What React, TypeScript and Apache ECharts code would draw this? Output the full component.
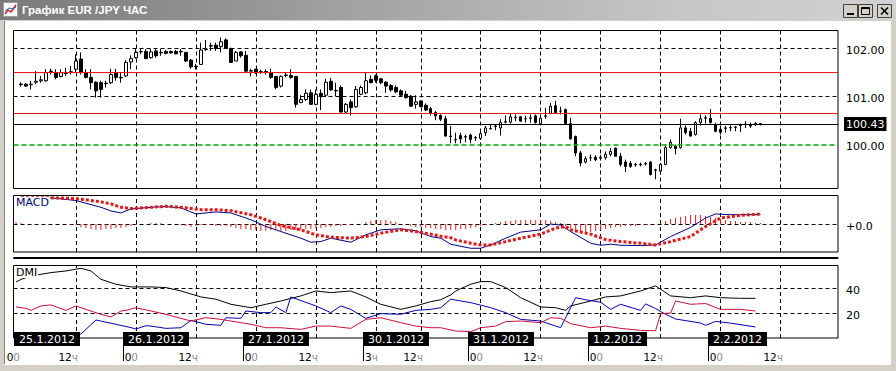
import React, { useEffect, useRef } from 'react';
import * as echarts from 'echarts';

const TITLE = 'График EUR /JPY ЧАС';

const DAYS = [
  { date: '25.1.2012', first: 0 },
  { date: '26.1.2012', first: 0 },
  { date: '27.1.2012', first: 0 },
  { date: '30.1.2012', first: 3 },
  { date: '31.1.2012', first: 0 },
  { date: '1.2.2012', first: 0 },
  { date: '2.2.2012', first: 0 },
];
const LAST_HOUR = 23;

// hourly candles [open, close, low, high] starting at 25.1.2012 01:00
const FIRST_CANDLE = 1;
const CANDLES: number[][] = [
  [101.26,101.25,101.21,101.30],[101.26,101.22,101.20,101.28],[101.25,101.26,101.15,101.33],[101.30,101.32,101.26,101.53],
  [101.33,101.35,101.29,101.43],[101.33,101.50,101.31,101.57],[101.52,101.53,101.46,101.58],[101.50,101.40,101.36,101.57],
  [101.42,101.50,101.40,101.57],[101.48,101.50,101.43,101.60],[101.50,101.52,101.46,101.64],[101.57,101.74,101.50,101.88],
  [101.78,101.50,101.46,101.92],[101.50,101.40,101.38,101.57],[101.40,101.29,101.15,101.57],[101.30,101.12,100.98,101.32],
  [101.29,101.15,100.98,101.33],[101.27,101.28,101.19,101.33],[101.29,101.46,101.26,101.58],[101.50,101.40,101.33,101.58],
  [101.39,101.40,101.29,101.50],[101.43,101.71,101.41,101.76],[101.72,101.79,101.57,101.86],[101.81,101.92,101.79,102.00],
  [101.93,101.94,101.88,101.99],[101.94,101.79,101.78,101.99],[101.81,101.93,101.79,101.99],[101.95,101.85,101.81,101.99],
  [101.91,101.92,101.85,101.99],[101.94,101.90,101.88,101.97],[101.94,101.91,101.89,101.96],[101.94,101.89,101.88,101.97],
  [101.93,101.94,101.85,101.99],[101.92,101.74,101.72,101.93],[101.76,101.62,101.58,101.78],[101.62,101.63,101.56,101.68],
  [101.67,101.97,101.66,102.12],[101.98,101.99,101.95,102.18],[102.05,102.06,101.95,102.12],[102.07,102.00,101.95,102.12],
  [102.04,102.14,101.92,102.23],[102.18,102.00,101.99,102.21],[102.00,101.71,101.71,102.02],[101.74,101.92,101.74,101.95],
  [101.93,101.85,101.81,101.95],[101.86,101.53,101.51,101.95],[101.53,101.54,101.42,101.58],[101.57,101.50,101.47,101.58],
  [101.51,101.52,101.47,101.56],[101.52,101.51,101.46,101.57],[101.50,101.40,101.37,101.58],[101.42,101.19,101.15,101.43],
  [101.22,101.42,101.19,101.44],[101.44,101.45,101.40,101.50],[101.44,101.40,101.37,101.57],[101.42,100.84,100.77,101.43],
  [100.88,100.94,100.86,101.03],[100.94,101.07,100.91,101.15],[101.08,100.84,100.84,101.15],[100.84,101.05,100.82,101.15],
  [101.07,101.00,100.72,101.15],[101.03,101.30,100.99,101.37],[101.32,101.14,101.12,101.39],[101.12,101.13,101.01,101.29],
  [101.19,100.68,100.67,101.23],[100.68,100.84,100.65,100.87],[100.89,100.77,100.61,100.94],[100.79,101.15,100.77,101.22],
  [101.05,101.19,101.03,101.23],[101.08,101.33,101.05,101.50],[101.36,101.29,101.28,101.44],[101.43,101.34,101.29,101.46],
  [101.37,101.29,101.26,101.39],[101.30,101.22,101.08,101.32],[101.23,101.14,101.10,101.26],[101.19,101.10,101.07,101.23],
  [101.12,101.03,101.00,101.15],[101.05,100.98,100.96,101.12],[101.01,100.80,100.79,101.03],[100.84,100.89,100.75,101.03],
  [100.91,100.79,100.79,100.92],[100.82,100.72,100.70,100.86],[100.75,100.65,100.61,100.79],[100.67,100.60,100.51,100.70],
  [100.61,100.53,100.49,100.63],[100.54,100.18,100.17,100.60],[100.18,100.17,100.03,100.39],[100.10,100.11,100.03,100.25],
  [100.19,100.12,100.03,100.25],[100.16,100.17,100.05,100.21],[100.20,100.11,100.03,100.23],[100.14,100.15,100.08,100.18],
  [100.13,100.23,100.10,100.28],[100.25,100.35,100.18,100.39],[100.33,100.34,100.32,100.42],[100.38,100.39,100.30,100.42],
  [100.35,100.46,100.19,100.53],[100.47,100.48,100.44,100.61],[100.47,100.58,100.44,100.64],[100.56,100.57,100.49,100.63],
  [100.58,100.49,100.48,100.60],[100.54,100.54,100.46,100.60],[100.55,100.56,100.46,100.63],[100.60,100.46,100.44,100.63],
  [100.44,100.55,100.42,100.63],[100.59,100.60,100.54,100.77],[100.65,100.80,100.63,100.87],[100.81,100.67,100.65,100.91],
  [100.70,100.70,100.63,100.79],[100.73,100.44,100.42,100.75],[100.44,100.12,100.11,100.56],[100.17,99.83,99.76,100.19],
  [99.83,99.62,99.55,99.87],[99.64,99.71,99.61,99.76],[99.73,99.73,99.66,99.80],[99.74,99.69,99.66,99.78],
  [99.72,99.74,99.68,99.79],[99.73,99.80,99.69,99.86],[99.80,99.86,99.76,99.93],[99.93,99.76,99.76,99.94],
  [99.76,99.59,99.55,99.83],[99.64,99.55,99.43,99.69],[99.61,99.55,99.52,99.66],[99.58,99.59,99.54,99.62],
  [99.59,99.58,99.55,99.63],[99.60,99.61,99.57,99.64],[99.64,99.38,99.36,99.66],[99.47,99.48,99.28,99.50],
  [99.45,99.59,99.38,99.62],[99.59,99.94,99.58,100.01],[99.94,100.05,99.92,100.11],[99.97,99.92,99.80,100.00],
  [99.94,100.35,99.92,100.54],[100.35,100.25,100.21,100.40],[100.28,100.18,100.17,100.35],[100.21,100.46,100.19,100.49],
  [100.46,100.54,100.40,100.63],[100.55,100.56,100.44,100.61],[100.55,100.46,100.44,100.74],[100.42,100.28,100.26,100.46],
  [100.32,100.26,100.21,100.40],[100.34,100.35,100.25,100.39],[100.35,100.36,100.28,100.40],[100.36,100.37,100.28,100.39],
  [100.40,100.41,100.26,100.44],[100.42,100.43,100.35,100.49],[100.42,100.39,100.35,100.46],[100.43,100.44,100.39,100.47],
  [100.44,100.43,100.40,100.44],
];

const PRICE_RANGE = [99.09, 102.375];
const PRICE_TICKS = [100, 101, 102];
const RED_LEVELS = [101.5, 100.65];
const GREEN_LEVEL = 100.0;
const LAST_PRICE = 100.43;

// MACD pane (bar index, value)
const MACD_RANGE = [-0.277, 0.283];
const MACD_TICKS = [0];
const MACD_LINE: number[][] = [
  [1,0.26],[7,0.26],[12,0.233],[17,0.166],[19,0.13],[21,0.11],[23,0.15],[27,0.166],[30,0.173],[33,0.16],[36,0.10],
  [40,0.12],[43,0.11],[47,0.043],[50,-0.024],[53,-0.074],[57,-0.14],[59,-0.18],[61,-0.174],[63,-0.14],[67,-0.18],
  [70,-0.107],[73,-0.057],[77,-0.047],[80,-0.067],[83,-0.124],[85,-0.14],[87,-0.20],[88,-0.21],[91,-0.24],[93,-0.24],
  [95,-0.207],[98,-0.14],[101,-0.08],[105,-0.057],[107,0.0],[109,-0.01],[111,-0.074],[115,-0.19],[117,-0.21],
  [119,-0.20],[121,-0.21],[125,-0.213],[128,-0.207],[131,-0.124],[135,-0.034],[138,0.06],[140,0.10],[143,0.093],[149,0.093],
];
const SIGNAL_LINE: number[][] = [
  [1,0.26],[7,0.26],[12,0.253],[17,0.22],[19,0.20],[21,0.166],[23,0.153],[27,0.166],[30,0.176],[33,0.166],[37,0.143],
  [40,0.143],[43,0.133],[47,0.093],[50,0.043],[53,-0.014],[57,-0.057],[60,-0.107],[63,-0.13],[67,-0.14],[70,-0.124],
  [73,-0.09],[77,-0.057],[80,-0.074],[83,-0.10],[85,-0.12],[87,-0.135],[88,-0.157],[91,-0.19],[93,-0.207],[95,-0.207],
  [98,-0.174],[101,-0.14],[105,-0.10],[108,-0.04],[110,-0.024],[111,-0.057],[115,-0.10],[118,-0.154],[121,-0.174],
  [125,-0.19],[128,-0.207],[131,-0.174],[135,-0.124],[138,-0.024],[141,0.06],[145,0.086],[149,0.10],
];
const MACD_HIST: number[] = [
  0.02,0.01,0,0,0,0,0,0,0,0,0,-0.01,-0.01,
  -0.03,-0.04,-0.05,-0.06,-0.06,-0.05,-0.05,-0.04,-0.04,-0.03,-0.02,
  -0.01,0,0,0.01,0.01,0.01,0,0,0,-0.01,
  -0.02,-0.03,-0.02,-0.01,-0.01,-0.01,-0.02,-0.02,-0.02,-0.03,-0.04,-0.05,
  -0.05,-0.06,-0.06,-0.07,-0.07,-0.06,-0.06,-0.07,-0.07,-0.06,-0.06,-0.06,-0.05,-0.05,-0.04,-0.04,-0.03,
  -0.03,-0.02,-0.02,-0.01,-0.01,0,0,
  0.02,0.03,0.04,0.04,0.04,0.03,0.02,
  0,-0.01,-0.02,-0.03,-0.03,-0.04,-0.04,-0.05,-0.05,-0.06,
  -0.06,-0.06,-0.05,-0.05,-0.04,-0.03,
  -0.02,-0.01,0,0.01,
  0.02,0.03,0.03,0.04,0.04,0.04,0.04,0.04,0.04,0.04,0.03,0.02,0.01,
  -0.02,-0.04,-0.06,-0.07,-0.08,-0.08,-0.07,-0.06,-0.05,
  -0.04,-0.03,-0.03,-0.02,-0.02,-0.02,-0.01,-0.01,-0.01,0,0.01,
  0.03,0.05,0.06,0.07,0.08,0.09,0.09,0.09,0.08,0.07,0.06,
  0.05,0.04,0.03,0.03,0.02,0.02,0.02,0.01,0.01,
];

// DMI pane (bar index, value)
const DMI_RANGE = [0.8, 58];
const DMI_TICKS = [20, 40];
const ADX: number[][] = [
  [0,45],[1,47],[3,49.8],[7,52.4],[10,53.7],[12,55.1],[13,55.8],[15,53.7],[17,47.1],[20,43.2],[23,41.1],[27,41.1],
  [30,40.6],[33,37.9],[37,33.2],[40,31.4],[43,27.4],[47,24.7],[50,27.4],[53,30],[57,34],[60,37.9],[63,36.6],[67,37.9],
  [70,33.2],[73,27.4],[77,23.4],[80,26.1],[83,29.5],[85,31],[87,34.8],[88,37.9],[91,43.2],[93,45.3],[95,45.3],
  [98,40.6],[101,32.6],[105,25.3],[108,24.7],[110,22.6],[111,26.1],[115,30],[118,33.2],[121,34],[125,37.9],
  [128,41.9],[131,34],[135,32.6],[138,34],[141,32.6],[145,32.1],[148,32.1],
];
const PLUS_DI: number[][] = [
  [1,2.5],[12,2.5],[13,4],[16,15],[20,11.6],[23,9],[24,7.9],[26,10.5],[27,10.2],[30,8.4],[33,8.9],[35,14.7],[38,11.6],
  [41,10.8],[42,16.8],[45,16.3],[46,22.1],[49,20.8],[51,20.8],[52,25.3],[54,20.8],[55,33.2],[60,26.1],[63,20.8],
  [65,26.1],[67,23.4],[70,16.3],[73,20],[77,19.5],[80,22.6],[83,23.4],[85,24.7],[87,31.4],[89,30],[91,28.7],[95,24.7],
  [98,20.8],[101,15.5],[105,14.2],[108,10.2],[109,9],[112,32.6],[114,31],[117,29],[119,23.4],[121,27.4],[125,22.6],
  [126,27.7],[128,24],[130,19.5],[132,15.8],[137,12.6],[138,10.8],[140,13.9],[143,12.5],[148,9.5],
];
const MINUS_DI: number[][] = [
  [0,25.3],[2,24.2],[3,22.6],[5,26.1],[7,26.9],[10,22.6],[12,26.1],[14,23.4],[17,19.5],[19,17.4],[21,22.1],[22,22.6],
  [24,24.7],[27,22.1],[30,19.5],[33,16.3],[35,14.2],[38,16.8],[41,15.5],[43,14.2],[47,11.6],[50,8.9],[53,8.9],[57,7.6],
  [60,10.2],[63,10.2],[67,8.4],[70,15.5],[73,16.8],[77,12.9],[80,10.2],[83,8.9],[85,8.9],[88,6.3],[91,5.8],[93,8.9],
  [96,10.2],[98,13.7],[101,14.2],[105,12.9],[107,16.8],[109,16.3],[111,12.1],[115,8.9],[118,10.2],[121,8.4],[125,6.8],
  [128,6.5],[129,20],[131,20.5],[132,30],[135,27.4],[138,28],[141,23.4],[145,23.4],[148,22.1],
];

const CATEGORIES: string[] = [];
const CAT_META: { date: string; hour: number; first: boolean }[] = [];
DAYS.forEach((d) => {
  for (let h = d.first; h <= LAST_HOUR; h++) {
    CATEGORIES.push(`${d.date} ${h}:00`);
    CAT_META.push({ date: d.date, hour: h, first: h === d.first });
  }
});

const FONT = '"DejaVu Sans", Verdana, sans-serif';
const GRID_LINE_CATS = CATEGORIES.filter((c, i) => i > 0 && (CAT_META[i].hour === 0 || CAT_META[i].hour === 12 || CAT_META[i].first));
const DASH = [4, 3];

function gridLines(hValues: number[]) {
  return [
    ...GRID_LINE_CATS.map((c) => ({ xAxis: c })),
    ...hValues.map((v) => ({ yAxis: v })),
  ];
}

function markerSeries(idx: number, z: number, color: string, type: any, data: any[], width = 1) {
  return {
    type: 'line',
    xAxisIndex: idx,
    yAxisIndex: idx,
    data: [],
    z,
    silent: true,
    color,
    markLine: {
      silent: true,
      z,
      symbol: ['none', 'none'],
      label: { show: false },
      lineStyle: { color, width, type, opacity: 1 },
      data: data.map((d) => ({ ...d, lineStyle: { color, width, type, opacity: 1 } })),
    },
  };
}

// a level drawn as a plain line series across every category (backup for markLine)
function levelSeries(v: number, color: string) {
  return {
    type: 'line',
    xAxisIndex: 0,
    yAxisIndex: 0,
    z: 6,
    silent: true,
    symbol: 'none',
    data: [[CATEGORIES[0], v], [CATEGORIES[CATEGORIES.length - 1], v]],
    lineStyle: { color, width: 1, type: 'solid' },
  };
}

const pts = (arr: number[][]) => arr.map(([i, v]) => [CATEGORIES[i], v]);

function buildOption(): any {
  const gridDefs = [
    { top: 30.5, height: 158 },
    { top: 195.5, height: 56.5 },
    { top: 257.5, height: 1 },
    { top: 265.5, height: 72.5 },
  ];
  const grid = gridDefs.map((g) => ({
    left: 13.5,
    width: 824.5,
    top: g.top,
    height: g.height,
    show: true,
    borderColor: '#000',
    borderWidth: 1,
    backgroundColor: 'transparent',
  }));
  const xAxis = grid.map((_, i) => ({
    type: 'category',
    gridIndex: i,
    data: CATEGORIES,
    boundaryGap: true,
    axisLine: { show: false },
    axisTick: { show: false },
    axisLabel: { show: false },
    splitLine: { show: false },
  }));
  const yLabel = (vals: number[], fmt: (v: number) => string) => ({
    customValues: vals,
    formatter: fmt,
    color: '#000',
    fontFamily: FONT,
    fontSize: 11,
    margin: 8,
    verticalAlign: 'top',
    lineHeight: 4,
  });
  const yBase = { position: 'right', axisLine: { show: false }, axisTick: { show: false }, splitLine: { show: false } };
  const yAxis = [
    { ...yBase, gridIndex: 0, min: PRICE_RANGE[0], max: PRICE_RANGE[1], axisLabel: yLabel(PRICE_TICKS, (v) => v.toFixed(2)) },
    { ...yBase, gridIndex: 1, min: MACD_RANGE[0], max: MACD_RANGE[1], axisLabel: yLabel(MACD_TICKS, () => '+0.0') },
    { ...yBase, gridIndex: 2, min: 0, max: 1, axisLabel: { show: false } },
    { ...yBase, gridIndex: 3, min: DMI_RANGE[0], max: DMI_RANGE[1], axisLabel: yLabel(DMI_TICKS, (v) => String(v)) },
  ];

  const candleData = CANDLES.map((c, k) => [CATEGORIES[k + FIRST_CANDLE], c[0], c[1], c[2], c[3]]);

  const lastLine: any = markerSeries(0, 6, '#000000', 'solid', [{ yAxis: LAST_PRICE }]);
  lastLine.markLine.data[0].label = {
    show: true,
    position: 'end',
    formatter: LAST_PRICE.toFixed(2),
    color: '#fff',
    backgroundColor: '#000',
    padding: [2, 2, 1, 2],
    fontFamily: FONT,
    fontSize: 11,
    distance: 6,
  };

  const series: any[] = [
    markerSeries(0, 1, '#000000', DASH, gridLines(PRICE_TICKS.filter((v) => v !== GREEN_LEVEL))),
    {
      type: 'candlestick',
      xAxisIndex: 0,
      yAxisIndex: 0,
      z: 3,
      barWidth: 3,
      dimensions: ['t', 'open', 'close', 'low', 'high'],
      encode: { x: 't', y: ['open', 'close', 'low', 'high'] },
      data: candleData,
      itemStyle: { color: '#ffffff', color0: '#000000', borderColor: '#000000', borderColor0: '#000000', borderWidth: 1 },
    },
    ...RED_LEVELS.map((v) => markerSeries(0, 6, '#e01e1e', 'solid', [{ yAxis: v }])),
    ...RED_LEVELS.map((v) => levelSeries(v, '#e01e1e')),
    markerSeries(0, 6, '#00a800', [5, 3], [{ yAxis: GREEN_LEVEL }], 1.5),
    lastLine,
    markerSeries(1, 1, '#000000', DASH, gridLines(MACD_TICKS)),
    {
      type: 'bar',
      xAxisIndex: 1,
      yAxisIndex: 1,
      z: 2,
      barWidth: 1,
      data: MACD_HIST.map((v, i) => [CATEGORIES[i], v]),
      itemStyle: { color: '#e02020' },
    },
    {
      type: 'line',
      xAxisIndex: 1,
      yAxisIndex: 1,
      z: 3,
      symbol: 'none',
      data: pts(MACD_LINE),
      lineStyle: { color: '#000080', width: 1 },
    },
    {
      type: 'line',
      xAxisIndex: 1,
      yAxisIndex: 1,
      z: 4,
      symbol: 'none',
      data: pts(SIGNAL_LINE),
      lineStyle: { color: '#e01818', width: 3, type: [3, 2], cap: 'butt' },
    },
    markerSeries(3, 1, '#000000', DASH, gridLines(DMI_TICKS)),
    { type: 'line', xAxisIndex: 3, yAxisIndex: 3, z: 3, symbol: 'none', data: pts(ADX), lineStyle: { color: '#000', width: 1 } },
    { type: 'line', xAxisIndex: 3, yAxisIndex: 3, z: 3, symbol: 'none', data: pts(PLUS_DI), lineStyle: { color: '#0000b0', width: 1 } },
    { type: 'line', xAxisIndex: 3, yAxisIndex: 3, z: 3, symbol: 'none', data: pts(MINUS_DI), lineStyle: { color: '#c8103a', width: 1 } },
  ];

  const chrome: any[] = [
    { type: 'rect', id: 'bl', shape: { x: 0, y: 0, width: 5, height: 371 }, style: { fill: '#d4d0c8' }, z: 50 },
    { type: 'rect', id: 'br', shape: { x: 891, y: 0, width: 5, height: 371 }, style: { fill: '#d4d0c8' }, z: 50 },
    { type: 'rect', id: 'bb', shape: { x: 0, y: 365, width: 896, height: 6 }, style: { fill: '#d4d0c8' }, z: 50 },
    { type: 'line', id: 'bl2', shape: { x1: 4.5, y1: 20, x2: 4.5, y2: 365 }, style: { stroke: '#808080', lineWidth: 1 }, z: 51 },
    { type: 'line', id: 'bb2', shape: { x1: 4, y1: 364.5, x2: 891, y2: 364.5 }, style: { stroke: '#ffffff', lineWidth: 1 }, z: 51 },
    {
      type: 'rect', id: 'tb', shape: { x: 0, y: 0, width: 896, height: 20 }, z: 52,
      style: {
        fill: new echarts.graphic.LinearGradient(0, 0, 1, 0, [
          { offset: 0, color: '#7a7a7a' },
          { offset: 0.75, color: '#c6c6c6' },
          { offset: 1, color: '#d2d2d2' },
        ]),
      },
    },
    { type: 'line', id: 'tb2', shape: { x1: 0, y1: 20.5, x2: 896, y2: 20.5 }, style: { stroke: '#d4d0c8', lineWidth: 1 }, z: 52 },
    { type: 'rect', id: 'ic', shape: { x: 3.5, y: 2.5, width: 14, height: 14 }, style: { fill: '#ffffff', stroke: '#9a9a9a', lineWidth: 1 }, z: 53 },
    { type: 'polyline', id: 'ic1', shape: { points: [[5, 14], [8, 10], [11, 12], [16, 5]] }, style: { stroke: '#d02020', lineWidth: 1.5, fill: null }, z: 54 },
    { type: 'polyline', id: 'ic2', shape: { points: [[5, 11], [9, 8], [13, 9], [16, 7]] }, style: { stroke: '#2060c0', lineWidth: 1, fill: null }, z: 54 },
    {
      type: 'text', id: 'tt', x: 22, y: 10, z: 54,
      style: { text: TITLE, fill: '#ffffff', font: 'bold 11.5px "Liberation Sans", Arial, sans-serif', verticalAlign: 'middle', align: 'left' },
    },
    { type: 'rect', id: 'b1', shape: { x: 843.5, y: 4.5, width: 14, height: 13 }, style: { fill: '#d4d0c8', stroke: '#404040', lineWidth: 1 }, z: 54 },
    { type: 'rect', id: 'b2', shape: { x: 858.5, y: 4.5, width: 14, height: 13 }, style: { fill: '#d4d0c8', stroke: '#404040', lineWidth: 1 }, z: 54 },
    { type: 'rect', id: 'b3', shape: { x: 877.5, y: 4.5, width: 14, height: 13 }, style: { fill: '#d4d0c8', stroke: '#404040', lineWidth: 1 }, z: 54 },
    { type: 'line', id: 'g1', shape: { x1: 847, y1: 14, x2: 854, y2: 14 }, style: { stroke: '#000', lineWidth: 2 }, z: 55 },
    { type: 'rect', id: 'g2', shape: { x: 861.5, y: 7.5, width: 8, height: 7 }, style: { fill: null, stroke: '#000', lineWidth: 1 }, z: 55 },
    { type: 'line', id: 'g2b', shape: { x1: 861.5, y1: 8.5, x2: 869.5, y2: 8.5 }, style: { stroke: '#000', lineWidth: 1 }, z: 55 },
    { type: 'line', id: 'g3a', shape: { x1: 881, y1: 7.5, x2: 888, y2: 14.5 }, style: { stroke: '#000', lineWidth: 1.6 }, z: 55 },
    { type: 'line', id: 'g3b', shape: { x1: 888, y1: 7.5, x2: 881, y2: 14.5 }, style: { stroke: '#000', lineWidth: 1.6 }, z: 55 },
    {
      type: 'text', id: 'lm', x: 15, y: 197, z: 60,
      style: { text: 'MACD', fill: '#000070', font: `11px ${FONT}`, backgroundColor: '#ffffff', padding: [0, 1, 0, 1], verticalAlign: 'top' },
    },
    {
      type: 'text', id: 'ld', x: 15, y: 267, z: 60,
      style: { text: 'DMI', fill: '#000000', font: `11px ${FONT}`, backgroundColor: '#ffffff', padding: [0, 1, 0, 1], verticalAlign: 'top' },
    },
  ];

  return {
    animation: false,
    backgroundColor: '#ffffff',
    grid,
    xAxis,
    yAxis,
    series,
    graphic: { elements: chrome },
  };
}

export default function App() {
  const ref = useRef<HTMLDivElement>(null);
  useEffect(() => {
    if (!ref.current) return;
    const chart = echarts.init(ref.current, null, { renderer: 'svg', width: 896, height: 371 });
    chart.setOption(buildOption());

    const px = (i: number) => chart.convertToPixel({ xAxisIndex: 3 }, CATEGORIES[i]) as number;
    const labels: any[] = [];
    CAT_META.forEach((m, i) => {
      const x = px(i);
      if (m.first) {
        const bx = Math.max(14, Math.round(x - 13));
        labels.push({
          type: 'text', id: `d${i}`, x: bx, y: 332, z: 70,
          style: {
            text: m.date, fill: '#ffffff', backgroundColor: '#000000', padding: [1, 5, 1, 5],
            font: `11px ${FONT}`, lineHeight: 12, verticalAlign: 'top', align: 'left',
          },
        });
        if (i > 0) {
          labels.push({
            type: 'line', id: `dl${i}`, z: 70,
            shape: { x1: bx + 0.5, y1: 346, x2: bx + 0.5, y2: 361 },
            style: { stroke: '#000', lineWidth: 1 },
          });
        }
      }
      if (m.first || m.hour === 12) {
        const t = m.hour === 0 ? '{a|0}{b|0}' : `{a|${m.hour}}{b|ч}`;
        const tx = i === 0 ? Math.round(x) + 4 : Math.round(x) + 2;
        labels.push({
          type: 'text', id: `t${i}`, x: tx, y: 357, z: 70,
          style: {
            text: t, align: 'right', verticalAlign: 'middle', font: `10.5px ${FONT}`,
            rich: {
              a: { fill: '#000000', font: `10.5px ${FONT}` },
              b: { fill: '#8c8c8c', font: `10.5px ${FONT}` },
            },
          },
        });
      }
    });
    chart.setOption({ graphic: { elements: labels } });
    return () => chart.dispose();
  }, []);
  return <div ref={ref} style={{ position: 'absolute', left: 0, top: 0, width: 896, height: 371 }} />;
}
